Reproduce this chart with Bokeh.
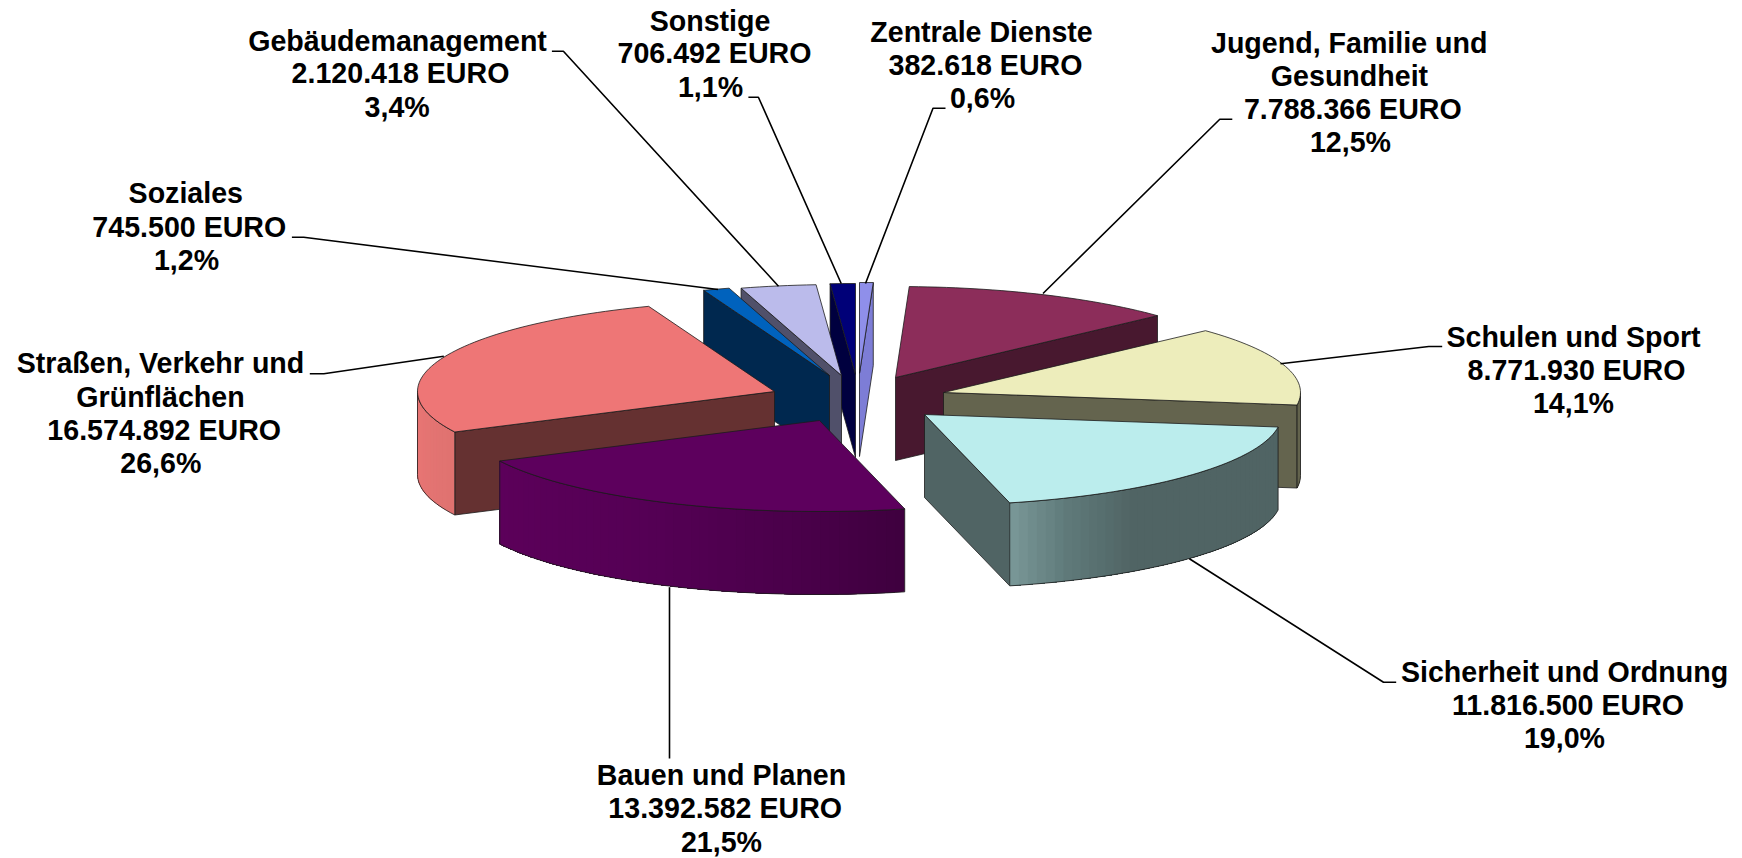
import math
from bokeh.embed import file_html
from bokeh.models import Range1d, ColumnDataSource
from bokeh.plotting import figure
from bokeh.resources import INLINE
from bokeh.core.properties import value

# ---- data (clockwise from 12 o'clock) ----
categories = ["Zentrale Dienste", "Jugend, Familie und Gesundheit", "Schulen und Sport",
              "Sicherheit und Ordnung", "Bauen und Planen", "Straßen, Verkehr und Grünflächen",
              "Soziales", "Gebäudemanagement", "Sonstige"]
values = [382618, 7788366, 8771930, 11816500, 13392582, 16574892, 745500, 2120418, 706492]
amount_labels = ["382.618 EURO", "7.788.366 EURO", "8.771.930 EURO", "11.816.500 EURO",
                 "13.392.582 EURO", "16.574.892 EURO", "745.500 EURO", "2.120.418 EURO", "706.492 EURO"]
percent_labels = ["0,6%", "12,5%", "14,1%", "19,0%", "21,5%", "26,6%", "1,2%", "3,4%", "1,1%"]
name_lines = [["Zentrale Dienste"], ["Jugend, Familie und", "Gesundheit"], ["Schulen und Sport"],
              ["Sicherheit und Ordnung"], ["Bauen und Planen"], ["Straßen, Verkehr und", "Grünflächen"],
              ["Soziales"], ["Gebäudemanagement"], ["Sonstige"]]

# ---- style / layout (screen pixels of the page) ----
RX, RY, DEPTH = 357, 91, 83
apex = [(859, 373), (895, 377), (943, 392), (924, 414), (819, 420),
        (774, 391), (829, 375), (841, 375), (855, 374)]
top_colors = ["#8f8fea", "#8c2d5a", "#ededbb", "#bbeded", "#5d005d", "#ee7676", "#0062bd", "#bbbbeb", "#000078"]
cut_colors = ["#7d7dd6", "#48182f", "#64644e", "#506464", "#5d005d", "#653131", "#00284f", "#50506a", "#00003f"]
arc_stops = {
    2: [(0, "#64644e"), (1, "#64644e")],
    3: [(0, "#506464"), (0.68, "#506464"), (0.86, "#5f7a7a"), (1, "#7a9898")],
    4: [(0, "#3e003e"), (0.25, "#4b004b"), (0.56, "#550055"), (1, "#5c005a")],
    5: [(0, "#df7270"), (1, "#ea7675")],
}
draw_order = [0, 8, 7, 6, 1, 2, 5, 3, 4]
text_pos = {  # per label line: centre x, baseline y
    0: [(981, 41.7), (985, 75), (982, 107.7)],
    1: [(1348.7, 52.7), (1349, 86), (1352.3, 119.3), (1350, 151.7)],
    2: [(1573, 346.7), (1576, 380), (1573, 413.3)],
    3: [(1564, 681.7), (1567.5, 715), (1564, 748.3)],
    4: [(721, 785), (724.7, 818.3), (721, 851.7)],
    5: [(160, 373.3), (160, 406.7), (163.7, 440), (160.3, 473.3)],
    6: [(185.3, 203.3), (188.8, 236.7), (186, 270)],
    7: [(397, 50.7), (400, 83.3), (396.7, 116.7)],
    8: [(709.5, 31), (714, 63.3), (710, 96.7)],
}
leaders = {
    0: [(945, 107.7), (932.5, 107.7), (865, 283)],
    1: [(1231.8, 118.7), (1219.3, 118.7), (1042.5, 293)],
    2: [(1441.7, 346), (1428.3, 346), (1280, 363.3)],
    3: [(1395.7, 681.7), (1383, 681.7), (1188.9, 558.3)],
    4: [(669, 758), (669, 586.7)],
    5: [(309.3, 373.3), (323.3, 373.3), (443.3, 355.7)],
    6: [(291.4, 236.7), (303.2, 236.7), (717.5, 289)],
    7: [(551.4, 50.7), (562.9, 50.7), (778, 285.7)],
    8: [(747.9, 96.7), (757.9, 96.7), (840.7, 283)],
}
EDGE = "#1c1c1c"
FONT_PX = "28.6px"
TEXT_SHIFT = -10.5

p = figure(width=1742, height=858, x_range=Range1d(0, 1742), y_range=Range1d(858, 0),
           toolbar_location=None, output_backend="svg", x_axis_type=None, y_axis_type=None,
           min_border=0, outline_line_color=None, background_fill_color="white")
p.grid.visible = False


def pt(i, deg, drop=0.0):
    t = math.radians(deg)
    return apex[i][0] + RX * math.sin(t), apex[i][1] - RY * math.cos(t) + drop


def arc_pts(i, a, b, drop=0.0):
    n = max(2, int(abs(b - a) / 1.5) + 1)
    return [pt(i, a + (b - a) * k / (n - 1), drop) for k in range(n)]


def mix(stops, f):
    for (f0, c0), (f1, c1) in zip(stops, stops[1:]):
        if f <= f1:
            u = 0 if f1 == f0 else (f - f0) / (f1 - f0)
            rgb = [round(int(c0[j:j + 2], 16) * (1 - u) + int(c1[j:j + 2], 16) * u) for j in (1, 3, 5)]
            return "#%02x%02x%02x" % tuple(rgb)
    return stops[-1][1]


def poly(pts, fill, line=EDGE, width=0.8):
    p.patch([q[0] for q in pts], [q[1] for q in pts], fill_color=fill, line_color=line, line_width=width)


total = sum(values)
edges = [0.0]
for v in values:
    edges.append(edges[-1] + 360.0 * v / total)

for i in draw_order:
    a, b = edges[i], edges[i + 1]
    ax, ay = apex[i]
    if math.sin(math.radians(a)) < -1e-6:
        s = pt(i, a)
        poly([s, (ax, ay), (ax, ay + DEPTH), (s[0], s[1] + DEPTH)], cut_colors[i])
    if math.sin(math.radians(b)) > 1e-6:
        e = pt(i, b)
        poly([e, (ax, ay), (ax, ay + DEPTH), (e[0], e[1] + DEPTH)], cut_colors[i])
    # curved wall: each strip runs to the wall's end, the next one paints over it (no seams)
    a2, b2 = max(a, 90), min(b, 270)
    if b2 > a2:
        stops = arc_stops[i]
        n = max(2, int((b2 - a2) / 1.5))
        for k in range(n):
            d0 = a2 + (b2 - a2) * k / n
            c = mix(stops, (k + 0.5) / n)
            strip = arc_pts(i, d0, b2) + arc_pts(i, b2, d0, DEPTH)
            p.patch([q[0] for q in strip], [q[1] for q in strip], fill_color=c, line_color=None)
        outline = arc_pts(i, a2, b2) + arc_pts(i, b2, a2, DEPTH)
        outline.append(outline[0])
        p.line([q[0] for q in outline], [q[1] for q in outline], line_color=EDGE, line_width=0.8)
    poly([(ax, ay)] + arc_pts(i, a, b), top_colors[i])

for i, pts in leaders.items():
    p.line([q[0] for q in pts], [q[1] for q in pts], line_color="black", line_width=1.6, line_join="round")

xs, ys, texts = [], [], []
for i in range(len(categories)):
    lines = name_lines[i] + [amount_labels[i], percent_labels[i]]
    for line, (x, y) in zip(lines, text_pos[i]):
        xs.append(x); ys.append(y); texts.append(line)
p.text(x="x", y="y", text="t", source=ColumnDataSource(dict(x=xs, y=ys, t=texts)),
       text_font=value("Liberation Sans"), text_font_style="bold", text_font_size=value(FONT_PX),
       text_align="center", text_baseline="alphabetic", text_color="black", y_offset=TEXT_SHIFT)

open("out.html", "w").write(file_html(p, INLINE))
